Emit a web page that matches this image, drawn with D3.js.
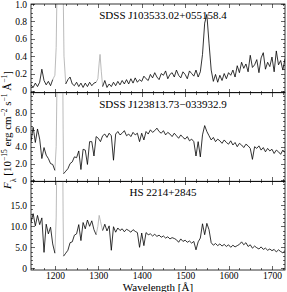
<!DOCTYPE html>
<html lang="en">
<head>
<meta charset="UTF-8">
<title>UV spectra</title>
<style>
  body{margin:0;background:#fff;}
  svg text{font-family:"Liberation Serif","Times New Roman",serif;fill:#000;}
  .axis text{font-size:9.5px;}
  .axis line{stroke:#000;stroke-width:0.6;shape-rendering:crispEdges;}
  .axis path{display:none;}
</style>
</head>
<body>
<script src="https://d3js.org/d3.v7.min.js"></script>
<script>
// wavelength grid [Å]
var wave = [1145,1150,1155,1160,1165,1170,1175,1180,1185,1190,
  1195,1200,1205,1210,1215,1220,1225,1230,1235,1240,
  1245,1250,1255,1260,1265,1270,1275,1280,1285,1290,
  1295,1300,1305,1310,1315,1320,1325,1330,1335,1340,
  1345,1350,1355,1360,1365,1370,1375,1380,1385,1390,
  1395,1400,1405,1410,1415,1420,1425,1430,1435,1440,
  1445,1450,1455,1460,1465,1470,1475,1480,1485,1490,
  1495,1500,1505,1510,1515,1520,1525,1530,1535,1540,
  1545,1550,1555,1560,1565,1570,1575,1580,1585,1590,
  1595,1600,1605,1610,1615,1620,1625,1630,1635,1640,
  1645,1650,1655,1660,1665,1670,1675,1680,1685,1690,
  1695,1700,1705,1710,1715,1720,1725,1730];

var names = ["SDSS J103533.02+055158.4", "SDSS J123813.73\u2212033932.9", "HS 2214+2845"];

// fluxes, null where the data are masked (drawn in grey below)
var fluxA = [0.07,0.04,0.09,0.05,0.10,0.25,0.12,0.07,0.11,0.06,
  0.13,null,null,null,null,null,0.08,0.13,0.16,0.08,
  0.06,0.10,0.05,0.09,0.04,0.09,0.05,0.10,0.06,0.09,
  0.10,null,null,0.05,0.12,0.04,0.08,0.05,0.10,0.06,
  0.11,0.07,0.12,0.08,0.13,0.08,0.14,0.09,0.15,0.10,
  0.13,0.11,0.17,0.14,0.12,0.19,0.15,0.21,0.16,0.13,
  0.20,0.18,0.23,0.14,0.19,0.21,0.16,0.24,0.18,0.15,
  0.22,0.19,0.14,0.23,0.20,0.17,0.24,0.16,0.22,0.42,
  0.78,0.88,0.55,0.24,0.11,0.19,0.10,0.18,0.12,0.20,
  0.14,0.21,0.18,0.24,0.16,0.29,0.21,0.33,0.26,0.31,
  0.22,0.41,0.27,0.30,0.36,0.21,0.38,0.44,0.25,0.33,
  0.28,0.39,0.22,0.46,0.30,0.35,0.24,0.37];

var fluxB = [4.6,6.3,4.5,6.1,4.9,2.6,3.9,3.0,2.6,2.0,
  1.9,1.2,null,null,null,0.8,1.1,1.4,2.0,2.2,
  2.8,2.7,3.5,1.3,3.7,3.6,1.9,4.6,4.6,2.9,
  5.2,5.0,4.6,5.3,5.5,5.1,5.6,5.3,2.4,5.5,
  5.8,5.4,5.6,5.9,5.3,5.5,5.2,5.7,5.4,5.6,
  4.6,5.6,4.8,5.8,5.5,6.0,5.7,5.9,6.2,5.8,
  5.6,5.9,5.4,5.7,5.5,5.2,5.6,5.3,5.0,5.4,
  5.1,4.9,5.2,4.7,4.9,4.6,2.9,4.6,2.8,5.4,
  6.5,5.8,5.3,4.8,5.1,4.6,4.9,4.7,4.4,4.8,
  4.5,4.3,4.7,4.2,4.5,4.0,4.4,4.2,3.9,4.3,
  4.1,3.8,2.5,4.0,3.8,4.1,3.6,3.9,3.4,3.8,
  3.5,3.7,3.2,3.6,3.4,3.1,3.6,3.3];

var fluxC = [11.0,13.0,10.1,12.6,10.4,12.0,3.8,10.5,8.2,9.8,
  5.8,3.6,null,null,null,2.9,3.6,4.3,6.1,6.3,
  7.9,8.2,10.4,6.6,10.9,9.4,11.5,10.0,11.3,9.2,
  8.0,null,null,9.0,10.5,8.9,10.1,4.3,9.9,8.6,
  9.6,9.0,9.4,8.7,9.3,9.0,8.6,9.2,8.8,8.5,
  5.0,8.4,5.4,8.5,8.0,8.2,7.7,8.1,7.6,7.9,
  7.4,7.7,7.2,7.5,7.0,7.3,7.1,6.8,6.2,7.0,
  6.4,6.7,6.2,6.5,6.0,6.4,4.4,6.3,7.2,10.6,
  8.0,10.7,9.2,6.1,5.5,5.9,5.4,5.8,5.3,5.7,
  5.2,5.6,5.0,5.5,5.1,5.4,5.7,6.3,5.6,6.1,
  5.2,5.6,4.8,5.3,4.9,4.6,5.1,4.5,4.8,4.3,
  4.6,4.2,4.5,3.9,4.4,4.0,3.7,4.2];

// masked regions (geocoronal Lyα and O I)
var lyaWaveA = [1195,1200,1203,1205,1208,1216,1219,1221,1225];
var lyaFluxA = [0.13,0.18,0.5,1.2,5,5,1.2,0.4,0.08];
var oiWaveA  = [1295,1299,1302,1304,1307,1310];
var oiFluxA  = [0.10,0.14,0.32,0.42,0.22,0.05];
var lyaWaveB = [1200,1203,1205,1208,1216,1219,1220];
var lyaFluxB = [1.2,4,12,30,30,6,0.8];
var lyaWaveC = [1200,1203,1205,1208,1216,1219,1220];
var lyaFluxC = [3.6,12,30,60,60,12,2.9];
var oiWaveC  = [1295,1299,1302,1305,1308,1310];
var oiFluxC  = [8.0,10.0,12.6,11.2,9.8,9.0];

var majorA = [0,0.2,0.4,0.6,0.8,1.0];
var majorB = [0,2,4,6,8];
var majorC = [0,5,10,15];
var majorX = [1200,1300,1400,1500,1600,1700];

var width = 287, height = 292;
var left = 31, right = 285, top0 = 4, ph = 88.67;

var svg = d3.select('body').append('svg')
  .attr('width', width).attr('height', height);

var x = d3.scaleLinear().domain([1145, 1730]).range([left, right]);

function zip(w, f){ return w.map(function(d, i){ return [d, f[i]]; }); }

var panels = [
  {name: names[0], flux: fluxA, grey: [zip(lyaWaveA, lyaFluxA), zip(oiWaveA, oiFluxA)],
   dom: [-0.02, 1.0], major: majorA, minorStep: 0.05},
  {name: names[1], flux: fluxB, grey: [zip(lyaWaveB, lyaFluxB)],
   dom: [-0.1, 10.4], major: majorB, minorStep: 0.5},
  {name: names[2], flux: fluxC, grey: [zip(lyaWaveC, lyaFluxC), zip(oiWaveC, oiFluxC)],
   dom: [-0.4, 20.7], major: majorC, minorStep: 1}
];

function fmt(d){ return d === 0 ? "0" : d3.format(".1f")(d); }

var minorX = d3.range(1150, 1730, 25).filter(function(d){ return d % 100 !== 0; });

panels.forEach(function(p, i){
  var top = top0 + i*ph, bottom = top + ph;
  var y = d3.scaleLinear().domain(p.dom).range([bottom, top]);
  var minors = d3.range(0, p.dom[1], p.minorStep)
    .filter(function(v){ return p.major.indexOf(+v.toFixed(3)) < 0; });

  var g = svg.append('g');
  var clipId = 'clip' + i;
  g.append('clipPath').attr('id', clipId).append('rect')
    .attr('x', left).attr('y', top).attr('width', right-left).attr('height', ph);

  var line = d3.line()
    .defined(function(d){ return d[1] != null; })
    .x(function(d){ return x(d[0]); })
    .y(function(d){ return y(d[1]); });

  var plot = g.append('g').attr('clip-path', 'url(#' + clipId + ')');
  plot.selectAll('.grey').data(p.grey).enter().append('path')
    .attr('d', line).attr('fill', 'none').attr('stroke', '#aaa').attr('stroke-width', 0.8);
  plot.append('path').datum(zip(wave, p.flux))
    .attr('d', line).attr('fill', 'none').attr('stroke', '#000').attr('stroke-width', 0.8)
    .attr('stroke-linejoin', 'round');

  // y axes, ticks pointing inwards
  g.append('g').attr('class','axis').attr('transform','translate('+left+',0)')
    .call(d3.axisLeft(y).tickValues(p.major).tickSize(-4).tickPadding(4).tickFormat(fmt));
  g.append('g').attr('class','axis').attr('transform','translate('+left+',0)')
    .call(d3.axisLeft(y).tickValues(minors).tickSize(-2).tickFormat(''));
  g.append('g').attr('class','axis').attr('transform','translate('+right+',0)')
    .call(d3.axisRight(y).tickValues(p.major).tickSize(-4).tickFormat(''));
  g.append('g').attr('class','axis').attr('transform','translate('+right+',0)')
    .call(d3.axisRight(y).tickValues(minors).tickSize(-2).tickFormat(''));

  // x axes top and bottom
  g.append('g').attr('class','axis').attr('transform','translate(0,'+top+')')
    .call(d3.axisTop(x).tickValues(majorX).tickSize(-4).tickFormat(''));
  g.append('g').attr('class','axis').attr('transform','translate(0,'+top+')')
    .call(d3.axisTop(x).tickValues(minorX).tickSize(-2).tickFormat(''));
  g.append('g').attr('class','axis').attr('transform','translate(0,'+bottom+')')
    .call(d3.axisBottom(x).tickValues(majorX).tickSize(-4).tickPadding(2)
      .tickFormat(i === panels.length-1 ? d3.format('d') : ''));
  g.append('g').attr('class','axis').attr('transform','translate(0,'+bottom+')')
    .call(d3.axisBottom(x).tickValues(minorX).tickSize(-2).tickFormat(''));

  g.append('rect').attr('x', left).attr('y', top).attr('width', right-left).attr('height', ph)
    .attr('fill','none').attr('stroke','#000').attr('stroke-width',0.8);

  g.append('text').attr('x', 163).attr('y', top + 15)
    .attr('text-anchor','middle').attr('font-size', 11).text(p.name);
});

svg.append('text').attr('x', (left+right)/2).attr('y', 291)
  .attr('text-anchor','middle').attr('font-size', 11).text('Wavelength [\u00c5]');

var yl = svg.append('text').attr('transform','translate(11,189) rotate(-90)')
  .attr('font-size', 11);
yl.append('tspan').attr('font-style','italic').text('F');
yl.append('tspan').attr('baseline-shift','sub').attr('font-size',8).text('\u03bb');
yl.append('tspan').text(' [10');
yl.append('tspan').attr('baseline-shift','super').attr('font-size',7.5).text('\u221215');
yl.append('tspan').text(' erg cm');
yl.append('tspan').attr('baseline-shift','super').attr('font-size',7.5).text('\u22122');
yl.append('tspan').text(' s');
yl.append('tspan').attr('baseline-shift','super').attr('font-size',7.5).text('\u22121');
yl.append('tspan').text(' \u00c5');
yl.append('tspan').attr('baseline-shift','super').attr('font-size',7.5).text('\u22121');
yl.append('tspan').text(']');
</script>
</body>
</html>
